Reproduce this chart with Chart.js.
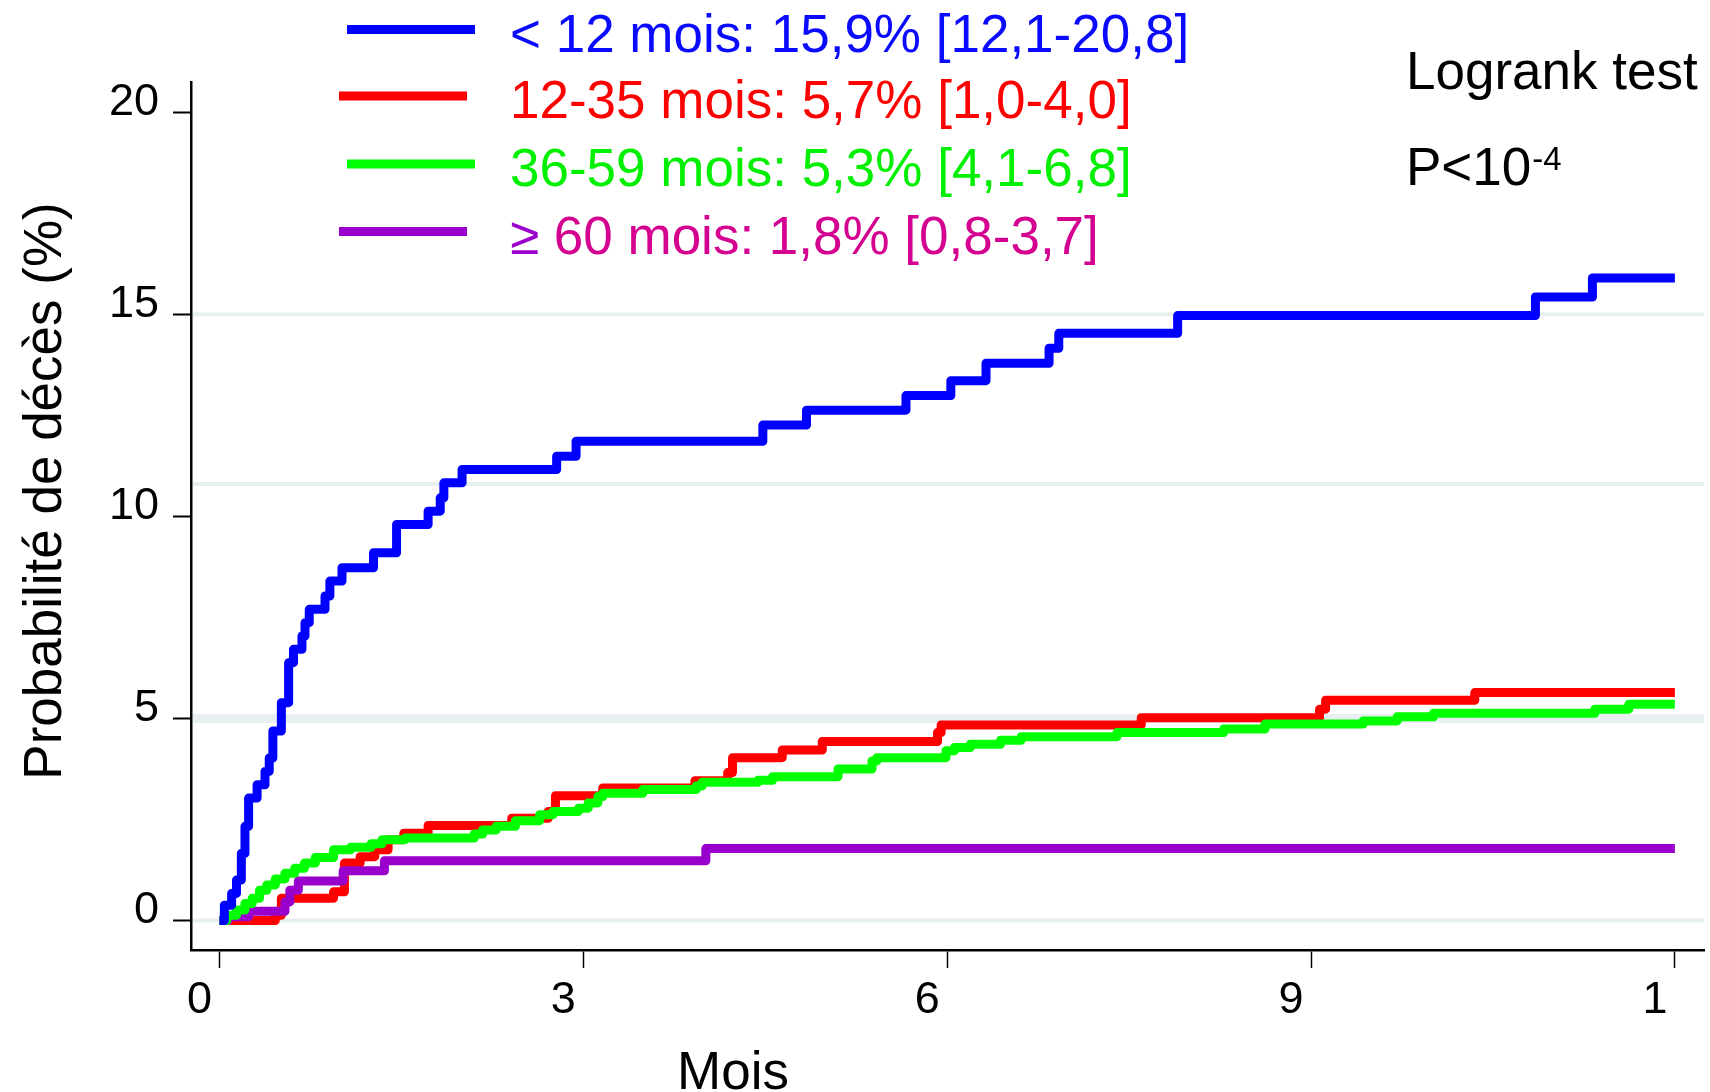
<!DOCTYPE html>
<html>
<head>
<meta charset="utf-8">
<script src="https://cdn.jsdelivr.net/npm/chart.js@4.4.0/dist/chart.umd.min.js"></script>
<style>
  html, body { margin: 0; background: #fff; }
  #wrap { width: 1710px; height: 1092px; position: relative; }
</style>
</head>
<body>
<div id="wrap"><canvas id="km"></canvas></div>
<script>
// ---- data (months, % death probability) ----
const monthsLt12 = [0, 0.04, 0.10, 0.14, 0.18, 0.21, 0.24, 0.31, 0.375, 0.41, 0.44, 0.51, 0.57, 0.61, 0.68, 0.705, 0.74, 0.87, 0.91, 1.01, 1.27, 1.46, 1.72, 1.82, 1.85, 2.0, 2.78, 2.94, 4.48, 4.84, 5.66, 6.03, 6.32, 6.84, 6.92, 7.9, 10.85, 11.32, 12.0];
const pctLt12    = [0, 0.38, 0.67, 1.0, 1.66, 2.33, 3.03, 3.36, 3.69, 4.02, 4.69, 5.39, 6.38, 6.71, 7.04, 7.37, 7.7, 8.03, 8.4, 8.73, 9.1, 9.8, 10.13, 10.46, 10.83, 11.16, 11.49, 11.86, 12.26, 12.63, 12.99, 13.36, 13.79, 14.16, 14.53, 14.97, 15.43, 15.9, 15.9];

const months12to35 = [0, 0.46, 0.51, 0.94, 1.03, 1.16, 1.28, 1.39, 1.52, 1.72, 2.41, 2.71, 2.77, 3.16, 3.92, 4.19, 4.23, 4.64, 4.97, 5.92, 5.95, 7.6, 9.07, 9.12, 10.35, 12.0];
const pct12to35    = [0, 0.13, 0.55, 0.71, 1.42, 1.58, 1.75, 2.0, 2.16, 2.35, 2.53, 2.70, 3.09, 3.28, 3.46, 3.66, 4.03, 4.22, 4.43, 4.65, 4.84, 5.02, 5.23, 5.45, 5.64, 5.64];

const months36to59 = [0, 0.06, 0.14, 0.21, 0.27, 0.33, 0.39, 0.46, 0.54, 0.62, 0.70, 0.79, 0.94, 1.08, 1.25, 1.34, 1.53, 2.10, 2.17, 2.28, 2.44, 2.64, 2.75, 2.96, 3.04, 3.12, 3.16, 3.49, 3.93, 3.98, 4.44, 4.56, 5.10, 5.38, 5.42, 5.99, 6.06, 6.19, 6.44, 6.61, 7.40, 8.28, 8.62, 9.43, 9.71, 10.01, 11.34, 11.62, 12.0];
const pct36to59    = [0, 0.13, 0.26, 0.42, 0.55, 0.75, 0.88, 1.03, 1.17, 1.29, 1.42, 1.56, 1.75, 1.81, 1.90, 2.0, 2.04, 2.14, 2.24, 2.33, 2.47, 2.62, 2.70, 2.78, 2.91, 3.07, 3.15, 3.24, 3.33, 3.42, 3.47, 3.56, 3.75, 3.95, 4.03, 4.2, 4.28, 4.36, 4.46, 4.55, 4.65, 4.74, 4.86, 4.94, 5.04, 5.13, 5.23, 5.35, 5.35];

const monthsGe60 = [0, 0.07, 0.24, 0.54, 0.58, 0.65, 1.02, 1.36, 4.01, 12.0];
const pctGe60    = [0, 0.09, 0.23, 0.46, 0.75, 0.98, 1.23, 1.48, 1.78, 1.78];

const groupNames = ["< 12 mois", "12-35 mois", "36-59 mois", "60 mois"];
const groupStats = ["15,9% [12,1-20,8]", "5,7% [1,0-4,0]", "5,3% [4,1-6,8]", "1,8% [0,8-3,7]"];

const xTickValues = [0, 3, 6, 9, 12];
const xTickLabels = ["0", "3", "6", "9", "1"];
const yTickValues = [0, 5, 10, 15, 20];
const gridValues  = [0, 5, 10.8, 15];

const FONT = "'Liberation Sans', Arial, Helvetica, sans-serif";
const LINE_COLORS = ["#0000ff", "#ff0000", "#00ff00", "#9900cc"];
const TEXT_COLORS = ["#0a0aff", "#ff0000", "#00f000", "#d4008f"];

const toPoints = (xs, ys) => xs.map((x, i) => ({ x: x, y: ys[i] }));

// light horizontal reference lines behind the curves
const refGrid = {
  id: "refGrid",
  beforeDatasetsDraw(chart) {
    const { ctx, chartArea, scales } = chart;
    ctx.save();
    ctx.strokeStyle = "#e8eff1";
    gridValues.forEach((v) => {
      ctx.lineWidth = v === 5 ? 9 : 4;
      const py = scales.y.getPixelForValue(v);
      ctx.beginPath();
      ctx.moveTo(chartArea.left + 2, py);
      ctx.lineTo(chartArea.right, py);
      ctx.stroke();
    });
    ctx.restore();
  }
};

// legend, test result and axis titles
const annotations = {
  id: "annotations",
  afterDraw(chart) {
    const ctx = chart.ctx;
    ctx.save();

    // legend
    const lineX = [[347, 475], [339, 467], [347, 475], [339, 467]];
    const lineY = [29.5, 96, 164, 231.5];
    const baseY = [52, 118, 186, 254];
    ctx.lineWidth = 9;
    ctx.font = "53px " + FONT;
    ctx.textBaseline = "alphabetic";
    ctx.textAlign = "left";
    groupNames.forEach((name, i) => {
      ctx.strokeStyle = LINE_COLORS[i];
      ctx.beginPath();
      ctx.moveTo(lineX[i][0], lineY[i]);
      ctx.lineTo(lineX[i][1], lineY[i]);
      ctx.stroke();
      let x = 510;
      if (i === 3) {
        ctx.fillStyle = "#9900cc";
        ctx.fillText("\u2265", x, baseY[i]);
        x += ctx.measureText("\u2265 ").width;
      }
      ctx.fillStyle = TEXT_COLORS[i];
      ctx.fillText(name + ": " + groupStats[i], x, baseY[i]);
    });

    // Logrank test
    ctx.fillStyle = "#000";
    ctx.font = "53px " + FONT;
    ctx.fillText("Logrank test", 1406, 89);
    ctx.fillText("P<10", 1406, 185);
    const pw = ctx.measureText("P<10").width;
    ctx.font = "33px " + FONT;
    ctx.fillText("-4", 1406 + pw + 1, 170);

    // x title
    ctx.font = "53px " + FONT;
    ctx.textAlign = "center";
    ctx.fillText("Mois", 733, 1089);

    // y title
    ctx.translate(61, 491);
    ctx.rotate(-Math.PI / 2);
    ctx.fillText("Probabilit\u00e9 de d\u00e9c\u00e8s (%)", 0, 0);
    ctx.restore();
  }
};

const series = [
  { data: toPoints(monthsLt12, pctLt12), color: LINE_COLORS[0], order: 0 },
  { data: toPoints(months12to35, pct12to35), color: LINE_COLORS[1], order: 3 },
  { data: toPoints(months36to59, pct36to59), color: LINE_COLORS[2], order: 1 },
  { data: toPoints(monthsGe60, pctGe60), color: LINE_COLORS[3], order: 2 }
];

new Chart(document.getElementById("km"), {
  type: "line",
  data: {
    datasets: series.map((s, i) => ({
      label: groupNames[i],
      data: s.data,
      borderColor: s.color,
      borderWidth: 9,
      stepped: true,
      pointRadius: 0,
      fill: false,
      borderJoinStyle: "round",
      borderCapStyle: "butt",
      order: s.order
    }))
  },
  options: {
    responsive: true,
    maintainAspectRatio: false,
    animation: false,
    events: [],
    layout: { padding: { top: 82, right: 6, left: 0, bottom: 0 } },
    plugins: { legend: { display: false }, tooltip: { enabled: false } },
    scales: {
      x: {
        type: "linear",
        min: -0.235,
        max: 12.24,
        afterBuildTicks: (s) => { s.ticks = xTickValues.map((v) => ({ value: v })); },
        afterFit: (s) => { s.height = 142; },
        border: { color: "#000", width: 2.5 },
        grid: { drawOnChartArea: false, drawTicks: true, tickLength: 18, tickColor: "#000", tickWidth: 1.5 },
        ticks: {
          autoSkip: false,
          maxRotation: 0,
          padding: 6,
          labelOffset: -20,
          color: "#000",
          font: { family: FONT, size: 45 },
          callback: (v) => xTickLabels[xTickValues.indexOf(v)]
        }
      },
      y: {
        type: "linear",
        min: -0.73,
        max: 20.75,
        afterBuildTicks: (s) => { s.ticks = yTickValues.map((v) => ({ value: v })); },
        afterFit: (s) => { s.width = 191; },
        border: { color: "#000", width: 2.5 },
        grid: { drawOnChartArea: false, drawTicks: true, tickLength: 18, tickColor: "#000", tickWidth: 2 },
        ticks: {
          padding: 14,
          labelOffset: -10,
          color: "#000",
          font: { family: FONT, size: 45 },
          callback: (v) => String(v)
        }
      }
    }
  },
  plugins: [refGrid, annotations]
});
</script>
</body>
</html>
